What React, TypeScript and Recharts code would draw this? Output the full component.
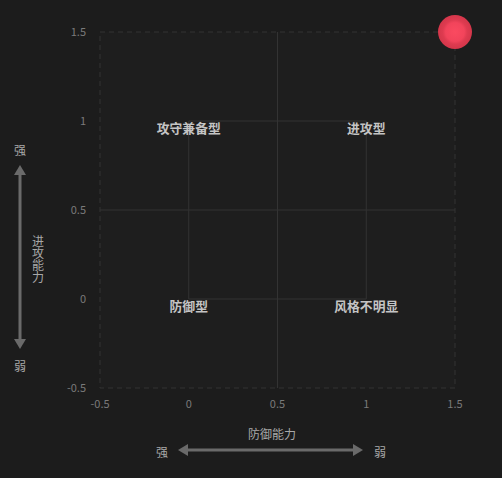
import React from 'react';
import {
  ScatterChart,
  Scatter,
  XAxis,
  YAxis,
  ReferenceArea,
  ReferenceLine,
  ReferenceDot,
} from 'recharts';

// axis ticks
const xTicks = [-0.5, 0, 0.5, 1, 1.5];
const yTicks = [-0.5, 0, 0.5, 1, 1.5];

// the single plotted team point
const pointX = [1.5];
const pointY = [1.5];

// quadrant labels and where they sit
const quadrantNames = ['攻守兼备型', '进攻型', '防御型', '风格不明显'];
const quadrantX = [0, 1, 0, 1];
const quadrantY = [1, 1, 0, 0];

const points = pointX.map((x, i) => ({ x, y: pointY[i] }));

const bg = '#1c1c1c';
const lineColor = '#333333';
const tickColor = '#7a7a7a';
const font = '"Noto Sans CJK SC", "Noto Sans", sans-serif';

const fmt = (v: number) => String(v);

const QuadLabel = (props: any) => {
  const { viewBox, value } = props;
  const cx = viewBox.x + (viewBox.width || 0) / 2;
  const cy = viewBox.y + (viewBox.height || 0) / 2;
  return (
    <text
      x={cx}
      y={cy + 6.5}
      textAnchor="middle"
      dominantBaseline="central"
      fill="#c4c4c4"
      fontSize={12.8}
      fontWeight="bold"
      fontFamily={font}
    >
      {value}
    </text>
  );
};

const Dot = (props: any) => {
  const { cx, cy } = props;
  return <circle cx={cx} cy={cy} r={17} fill="url(#dotGrad)" />;
};

export default function App() {
  return (
    <div
      style={{
        position: 'fixed',
        left: 0,
        top: 0,
        width: 502,
        height: 478,
        background: bg,
        fontFamily: font,
      }}
    >
      <ScatterChart
        width={502}
        height={478}
        margin={{ top: 32, right: 47, bottom: 60, left: 60 }}
        style={{ position: 'absolute', left: 0, top: 0, overflow: 'visible' }}
      >
        <defs>
          <radialGradient id="dotGrad" cx="50%" cy="50%" r="50%">
            <stop offset="0%" stopColor="#fa4a60" />
            <stop offset="55%" stopColor="#f2445b" />
            <stop offset="72%" stopColor="#de3b50" />
            <stop offset="100%" stopColor="#d4364a" />
          </radialGradient>
        </defs>
        <XAxis
          type="number"
          dataKey="x"
          domain={[-0.5, 1.5]}
          ticks={xTicks}
          tickFormatter={fmt}
          axisLine={false}
          tickLine={false}
          tick={{ fill: tickColor, fontSize: 11, fontFamily: font }}
          tickMargin={6}
          height={30}
        />
        <YAxis
          type="number"
          dataKey="y"
          domain={[-0.5, 1.5]}
          ticks={yTicks}
          tickFormatter={fmt}
          axisLine={false}
          tickLine={false}
          tick={{ fill: tickColor, fontSize: 11, fontFamily: font }}
          tickMargin={8}
          width={40}
        />
        <ReferenceArea
          x1={-0.5}
          x2={1.5}
          y1={-0.5}
          y2={1.5}
          fill="#1e1e1e"
          fillOpacity={1}
          stroke={lineColor}
          strokeDasharray="5 4"
          ifOverflow="visible"
        />
        <ReferenceLine x={0.5} stroke={lineColor} strokeWidth={1} />
        <ReferenceLine y={0.5} stroke={lineColor} strokeWidth={1} />
        <ReferenceArea
          x1={0}
          x2={1}
          y1={0}
          y2={1}
          fill="none"
          stroke={lineColor}
          strokeWidth={1}
        />
        {quadrantNames.map((name, i) => (
          <ReferenceDot
            key={name}
            x={quadrantX[i]}
            y={quadrantY[i]}
            r={0}
            fill="none"
            stroke="none"
            label={<QuadLabel value={name} />}
          />
        ))}
        <Scatter data={points} shape={<Dot />} isAnimationActive={false} />
      </ScatterChart>

      <svg
        width={502}
        height={478}
        style={{ position: 'absolute', left: 0, top: 0, pointerEvents: 'none' }}
      >
        {/* x axis title and arrow */}
        <text x={272} y={433} textAnchor="middle" dominantBaseline="central" fill="#a8a8a8" fontSize={12} fontFamily={font}>
          防御能力
        </text>
        <text x={162} y={451} textAnchor="middle" dominantBaseline="central" fill="#a8a8a8" fontSize={12} fontFamily={font}>
          强
        </text>
        <text x={380} y={451} textAnchor="middle" dominantBaseline="central" fill="#a8a8a8" fontSize={12} fontFamily={font}>
          弱
        </text>
        <line x1={186} y1={450} x2={355} y2={450} stroke="#6a6a6a" strokeWidth={3} />
        <polygon points="178,450 188,444 188,456" fill="#6a6a6a" />
        <polygon points="363,450 353,444 353,456" fill="#6a6a6a" />

        {/* y axis title and arrow */}
        <text x={20} y={149} textAnchor="middle" dominantBaseline="central" fill="#a8a8a8" fontSize={12} fontFamily={font}>
          强
        </text>
        <text x={20} y={365} textAnchor="middle" dominantBaseline="central" fill="#a8a8a8" fontSize={12} fontFamily={font}>
          弱
        </text>
        <line x1={20} y1={172} x2={20} y2={342} stroke="#6a6a6a" strokeWidth={3} />
        <polygon points="20,165 14,175 26,175" fill="#6a6a6a" />
        <polygon points="20,349 14,339 26,339" fill="#6a6a6a" />
        <text
          x={38}
          y={235}
          fill="#a8a8a8"
          fontSize={12}
          fontFamily={font}
          style={{ writingMode: 'vertical-rl', letterSpacing: 0 }}
        >
          进攻能力
        </text>
      </svg>
    </div>
  );
}
